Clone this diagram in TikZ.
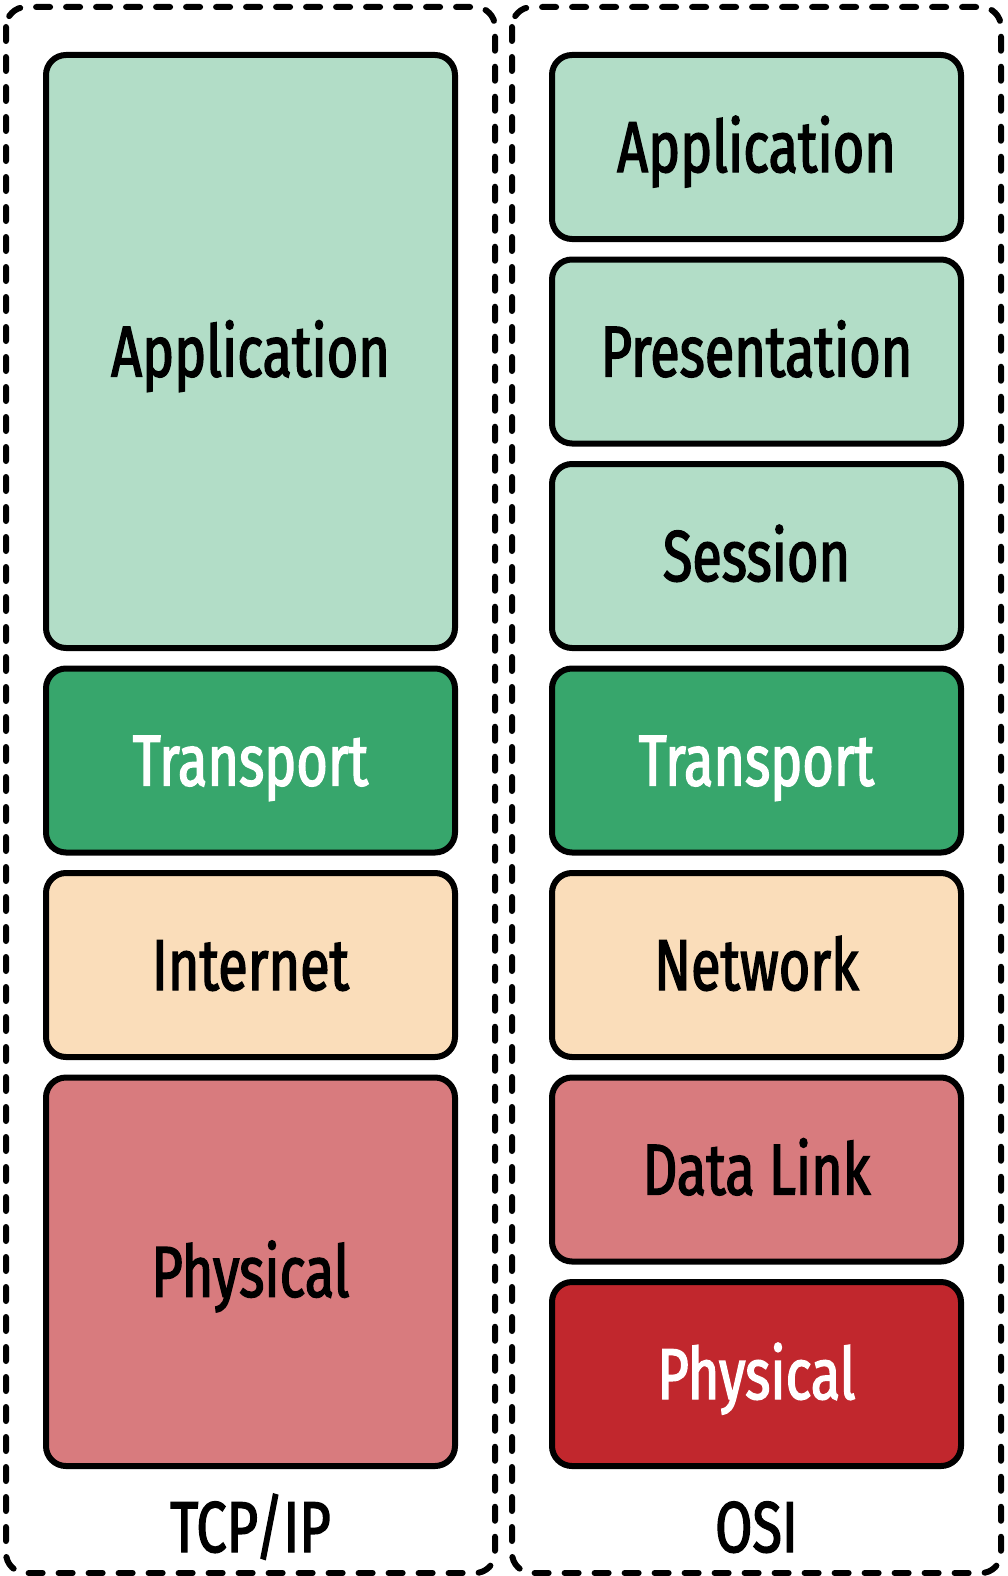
\documentclass[tikz,border=0pt]{standalone}
\usepackage{fontspec}
\setmainfont{Fira Sans}[FakeStretch=0.75, FakeBold=2]
\definecolor{lgreen}{HTML}{B2DDC7}
\definecolor{dgreen}{HTML}{37A66C}
\definecolor{peach}{HTML}{FADDBA}
\definecolor{pink}{HTML}{D87B7E}
\definecolor{dred}{HTML}{C1272D}
\begin{document}
\begin{tikzpicture}[x=1pt,y=-1pt,
  layer/.style={draw=black, line width=6pt, rounded corners=20pt,
    minimum width=409pt, inner sep=0pt,
    font=\fontsize{72}{86}\selectfont, text height=50pt, text depth=0pt},
  lbl/.style={inner sep=0pt, font=\fontsize{72}{86}\selectfont, text height=50pt, text depth=0pt},
  frame/.style={draw=black, line width=6pt, dash pattern=on 14pt off 16pt, line cap=round, rounded corners=20pt}]
\useasboundingbox (0,0) rectangle (1008,1576);
\draw[frame] (6,7) rectangle (495,1573);
\draw[frame] (512,7) rectangle (1001,1573);
% TCP/IP
\node[layer, fill=lgreen, minimum height=593pt] (tapp) at (250.5,351.5) {Application};
\node[layer, fill=dgreen, text=white, minimum height=184pt] (ttra) at (250.5,760.5) {Transport};
\node[layer, fill=peach, minimum height=184pt] (tint) at (250.5,965) {Internet};
\node[layer, fill=pink, minimum height=388.5pt] (tphy) at (250.5,1271.75) {Physical};
\node[lbl] (tcp) at (250.5,1527) {TCP/IP};
% OSI
\node[layer, fill=lgreen, minimum height=184pt] (oapp) at (756.5,147) {Application};
\node[layer, fill=lgreen, minimum height=184pt] (opre) at (756.5,351.5) {Presentation};
\node[layer, fill=lgreen, minimum height=184pt] (oses) at (756.5,556) {Session};
\node[layer, fill=dgreen, text=white, minimum height=184pt] (otra) at (756.5,760.5) {Transport};
\node[layer, fill=peach, minimum height=184pt] (onet) at (756.5,965) {Network};
\node[layer, fill=pink, minimum height=184pt] (odat) at (756.5,1169.5) {Data Link};
\node[layer, fill=dred, text=white, minimum height=184pt] (ophy) at (756.5,1374) {Physical};
\node[lbl] (osi) at (756.5,1527) {OSI};
\end{tikzpicture}
\end{document}
